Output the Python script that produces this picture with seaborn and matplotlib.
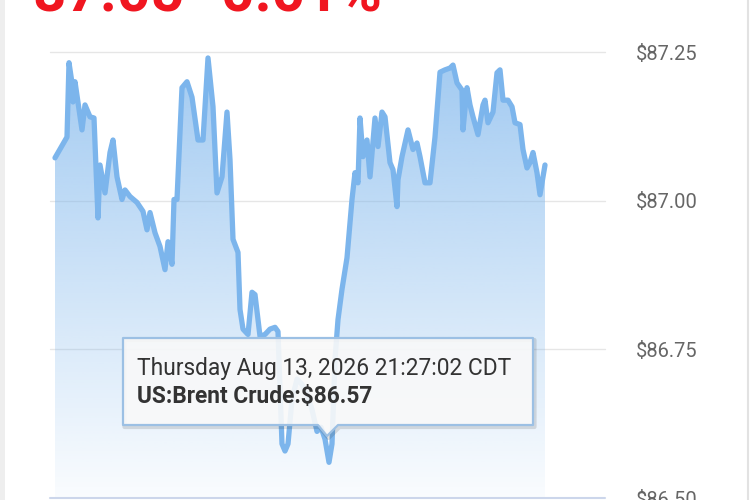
import numpy as np
import pandas as pd
import matplotlib
matplotlib.use("Agg")
import matplotlib.pyplot as plt
from matplotlib.patches import Polygon, Rectangle
from matplotlib.lines import Line2D
import seaborn as sns

# Daten (Minuten seit Start, Preis in $)
minutes = [5, 17, 19, 22, 23, 25, 32, 35, 40, 44, 48, 50, 55, 60, 63, 67, 72, 75, 80, 87,
           93, 97, 100, 105, 110, 115, 118, 122, 124, 127, 132, 137, 142, 148, 153, 158, 163, 167, 172, 177,
           180, 183, 188, 190, 193, 198, 202, 205, 210, 215, 220, 225, 228, 232, 235, 238, 242, 247, 252, 257,
           262, 267, 271, 275, 279, 282, 285, 288, 292, 297, 302, 305, 308, 310, 313, 317, 320, 325, 328, 332,
           335, 340, 343, 347, 348, 352, 358, 363, 367, 370, 375, 380, 385, 390, 395, 400, 403, 407, 412, 413,
           417, 420, 423, 428, 433, 435, 438, 443, 447, 450, 453, 458, 462, 465, 470, 473, 477, 480, 483, 487,
           490, 495]
prices = [87.072, 87.107, 87.232, 87.198, 87.166, 87.200, 87.119, 87.161, 87.141, 87.139,
          86.971, 87.060, 87.013, 87.081, 87.102, 87.040, 87.002, 87.018, 87.007, 86.997,
          86.982, 86.951, 86.980, 86.946, 86.923, 86.884, 86.931, 86.893, 87.002, 87.002,
          87.190, 87.200, 87.174, 87.102, 87.102, 87.240, 87.158, 87.013, 87.040, 87.149,
          87.069, 86.935, 86.913, 86.817, 86.784, 86.775, 86.846, 86.842, 86.772, 86.775,
          86.784, 86.787, 86.780, 86.591, 86.579, 86.591, 86.666, 86.700, 86.691, 86.675,
          86.649, 86.612, 86.619, 86.599, 86.560, 86.591, 86.733, 86.800, 86.851, 86.904,
          87.002, 87.047, 87.030, 87.139, 87.074, 87.102, 87.040, 87.139, 87.091, 87.149,
          87.141, 87.064, 87.052, 86.990, 87.035, 87.074, 87.119, 87.086, 87.097, 87.074,
          87.030, 87.030, 87.107, 87.216, 87.220, 87.223, 87.228, 87.198, 87.186, 87.119,
          87.190, 87.161, 87.141, 87.111, 87.161, 87.169, 87.131, 87.149, 87.215, 87.220,
          87.169, 87.169, 87.158, 87.131, 87.128, 87.086, 87.055, 87.064, 87.081, 87.047,
          87.010, 87.060]
y_ticks = [86.50, 86.75, 87.00, 87.25]
y_labels = ["$86.50", "$86.75", "$87.00", "$87.25"]
headline = "87.05 -0.01%"
tip_date = "Thursday Aug 13, 2026 21:27:02 CDT"
tip_value = "US:Brent Crude:$86.57"

df = pd.DataFrame({"Minute": minutes, "Price": prices})

sns.set_theme(style="white")
plt.rcParams["font.family"] = ["Roboto", "DejaVu Sans"]

W, H = 750, 500
fig = plt.figure(figsize=(W / 100, H / 100), dpi=100)
ax = fig.add_axes([50 / W, 1 - 498 / H, 555 / W, 446 / H])


def px(x, y):
    # Pixel (von oben links) -> Figure-Koordinaten
    return (x / W, 1 - y / H)


ax.set_xlim(0, 555)
ax.set_ylim(86.50, 87.25)

# Flaeche mit Farbverlauf
line_color = "#7cb5ec"
poly = ax.fill_between(df["Minute"], df["Price"], 86.50, color="none", lw=0)
grad = np.linspace(0.72, 0.04, 256).reshape(-1, 1)
rgba = np.zeros((256, 1, 4))
rgba[..., :3] = matplotlib.colors.to_rgb(line_color)
rgba[..., 3] = grad
img = ax.imshow(rgba, extent=[0, 555, 86.50, 87.25], aspect="auto", origin="upper", zorder=1)
img.set_clip_path(poly.get_paths()[0], transform=ax.transData)

sns.lineplot(data=df, x="Minute", y="Price", ax=ax, color=line_color, linewidth=3.8,
             solid_joinstyle="round", solid_capstyle="round", zorder=3)

# Achsen
for s in ax.spines.values():
    s.set_visible(False)
ax.grid(False)
for v in y_ticks[1:]:
    ax.axhline(v, color="#e6e6e6", lw=1, zorder=0, clip_on=False)
ax.axhline(86.50, color="#ccd6eb", lw=1.5, zorder=4, clip_on=False)
ax.set_xticks([])
ax.set_yticks(y_ticks)
ax.set_yticklabels(y_labels)
ax.yaxis.tick_right()
ax.tick_params(axis="y", length=0, pad=22, labelsize=14.5, labelcolor="#666666")
ax.set_xlabel("")
ax.set_ylabel("")

# Ueberschrift (oben abgeschnitten)
fig.text(*px(33, 12), headline, fontsize=42, fontweight="bold", color="#f01620",
         ha="left", va="baseline")

# Tooltip
box = [(123, 338), (533, 338), (533, 425), (338, 425), (327, 436), (318, 425), (123, 425)]
shadow = Polygon([px(x + 1.5, y + 2) for x, y in box], closed=True, transform=fig.transFigure,
                 facecolor="none", edgecolor=(0, 0, 0, 0.12), lw=3, joinstyle="round", zorder=5)
tip = Polygon([px(x, y) for x, y in box], closed=True, transform=fig.transFigure,
              facecolor=(0.975, 0.975, 0.975, 0.9), edgecolor="#9cc0e4", lw=1.6,
              joinstyle="round", zorder=6)
fig.add_artist(shadow)
fig.add_artist(tip)
fig.text(*px(137, 368), tip_date, fontsize=16.4, color="#333333", ha="left", va="center", zorder=7)
fig.text(*px(137, 396), tip_value, fontsize=16.4, fontweight="bold", color="#333333",
         ha="left", va="center", zorder=7)

# Raender des Screenshots
fig.add_artist(Rectangle((0, 0), 5 / W, 1, transform=fig.transFigure, color="#eeeeee", lw=0))
fig.add_artist(Line2D([748 / W, 748 / W], [0, 1], transform=fig.transFigure, color="#e2e2e2", lw=1.5))

fig.savefig("out.png", dpi=100)
